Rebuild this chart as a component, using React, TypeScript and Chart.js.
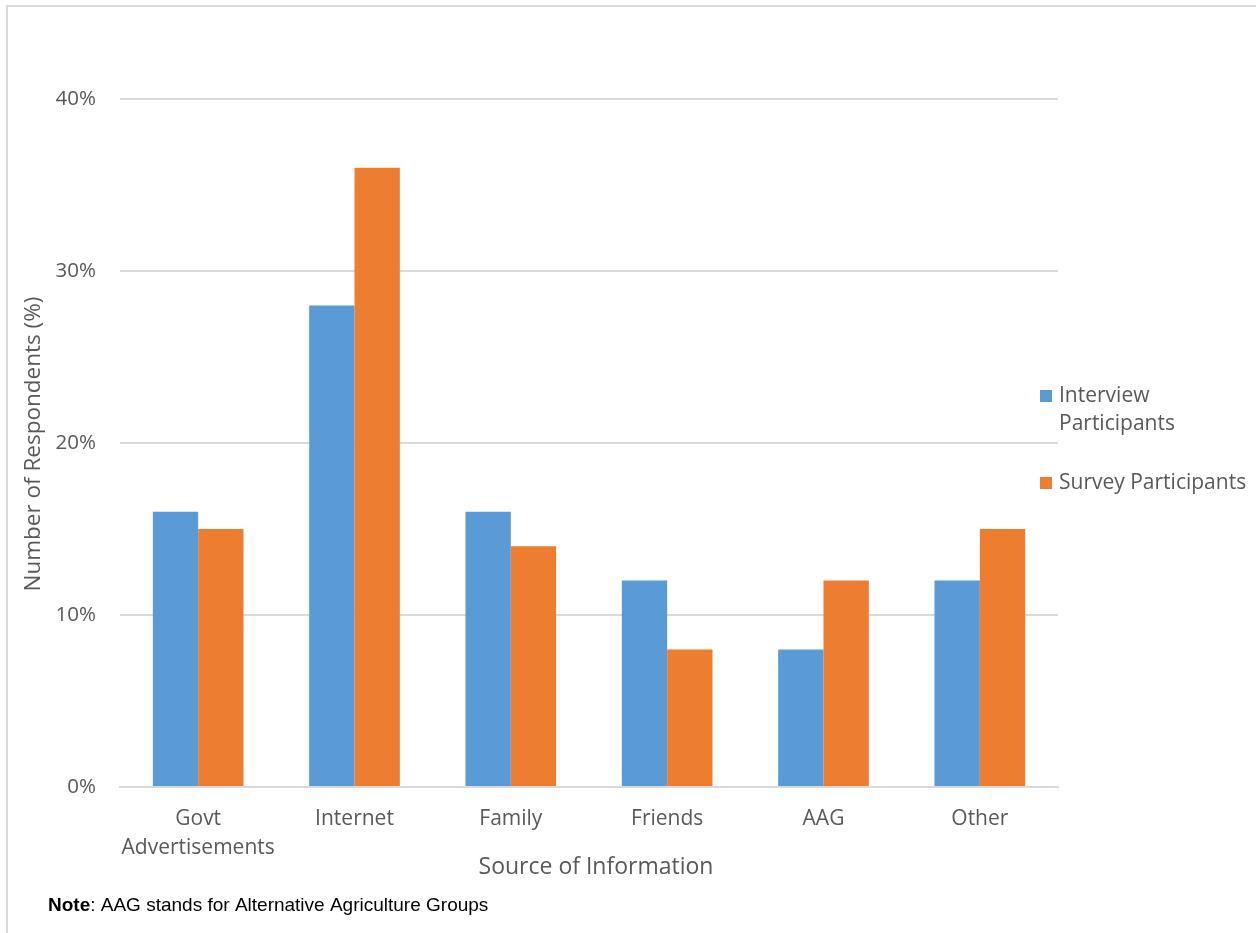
import React, { useEffect, useRef } from "react";
import { Chart, registerables } from "chart.js";

Chart.register(...registerables);

const categories: (string | string[])[] = [
  ["Govt", "Advertisements"],
  "Internet",
  "Family",
  "Friends",
  "AAG",
  "Other",
];
const interviewValues = [16, 28, 16, 12, 8, 12];
const surveyValues = [15, 36, 14, 8, 12, 15];
const seriesNames = [["Interview", "Participants"], ["Survey Participants"]];
const seriesColors = ["#5B9BD5", "#ED7D31"];
const yTitle = "Number of Respondents (%)";
const xTitle = "Source of Information";

const FONT = "'Open Sans', 'Noto Sans', sans-serif";
const TEXT = "#595959";

const extrasPlugin = {
  id: "extras",
  afterDraw(chart: any) {
    const ctx = chart.ctx as CanvasRenderingContext2D;
    const area = chart.chartArea;
    ctx.save();

    // frame (left and top edges)
    ctx.strokeStyle = "#d9d9d9";
    ctx.lineWidth = 2;
    ctx.beginPath();
    ctx.moveTo(7, chart.height);
    ctx.lineTo(7, 6);
    ctx.lineTo(chart.width, 6);
    ctx.stroke();

    // y axis title
    ctx.fillStyle = TEXT;
    ctx.font = `22.5px ${FONT}`;
    ctx.textAlign = "center";
    ctx.textBaseline = "middle";
    ctx.save();
    ctx.translate(34, 444);
    ctx.rotate(-Math.PI / 2);
    ctx.fillText(yTitle, 0, 0);
    ctx.restore();

    // x axis title
    ctx.font = `23px ${FONT}`;
    ctx.fillText(xTitle, (area.left + area.right) / 2 + 7, 867);

    // legend
    ctx.font = `21px ${FONT}`;
    ctx.textAlign = "left";
    const legendRows = [396, 483];
    seriesNames.forEach((lines, i) => {
      const y = legendRows[i];
      ctx.fillStyle = seriesColors[i];
      ctx.fillRect(1040, y - 6, 12, 12);
      ctx.fillStyle = TEXT;
      lines.forEach((line, j) => {
        ctx.fillText(line, 1059, y + j * 28);
      });
    });

    // note
    ctx.fillStyle = "#000000";
    ctx.textBaseline = "middle";
    const noteFont = "'Liberation Sans', Arial, sans-serif";
    ctx.font = `bold 19px ${noteFont}`;
    ctx.fillText("Note", 48, 906);
    const w = ctx.measureText("Note").width;
    ctx.font = `19px ${noteFont}`;
    ctx.fillText(": AAG stands for Alternative Agriculture Groups", 48 + w, 906);

    ctx.restore();
  },
};

export default function App() {
  const canvasRef = useRef<HTMLCanvasElement | null>(null);

  useEffect(() => {
    document.body.style.margin = "0";
    const canvas = canvasRef.current;
    if (!canvas) return;
    const chart = new Chart(canvas, {
      type: "bar",
      data: {
        labels: categories,
        datasets: [
          {
            label: "Interview Participants",
            data: interviewValues,
            backgroundColor: seriesColors[0],
          },
          {
            label: "Survey Participants",
            data: surveyValues,
            backgroundColor: seriesColors[1],
          },
        ],
      },
      options: {
        animation: false,
        responsive: false,
        maintainAspectRatio: false,
        datasets: {
          bar: { barPercentage: 1, categoryPercentage: 0.58 },
        },
        layout: { padding: { top: 99, right: 198, left: 0, bottom: 0 } },
        plugins: {
          legend: { display: false },
          tooltip: { enabled: false },
        },
        scales: {
          x: {
            grid: { display: false, drawTicks: false },
            border: { display: true, color: "#d9d9d9", width: 2 },
            ticks: {
              color: TEXT,
              font: { family: FONT, size: 21, lineHeight: 1.38 },
              padding: 18,
              maxRotation: 0,
              autoSkip: false,
            },
            afterFit: (scale: any) => {
              scale.height = 146;
            },
          },
          y: {
            min: 0,
            max: 40,
            grid: { color: "#d9d9d9", lineWidth: 2, drawTicks: false },
            border: { display: false },
            ticks: {
              stepSize: 10,
              color: TEXT,
              font: { family: FONT, size: 20.5 },
              padding: 24,
              callback: (v: any) => `${v}%`,
            },
            afterFit: (scale: any) => {
              scale.width = 120;
            },
          },
        },
      },
      plugins: [extrasPlugin],
    });
    return () => chart.destroy();
  }, []);

  return (
    <div style={{ position: "relative", width: 1256, height: 933, background: "#fff" }}>
      <canvas ref={canvasRef} width={1256} height={933} />
    </div>
  );
}
